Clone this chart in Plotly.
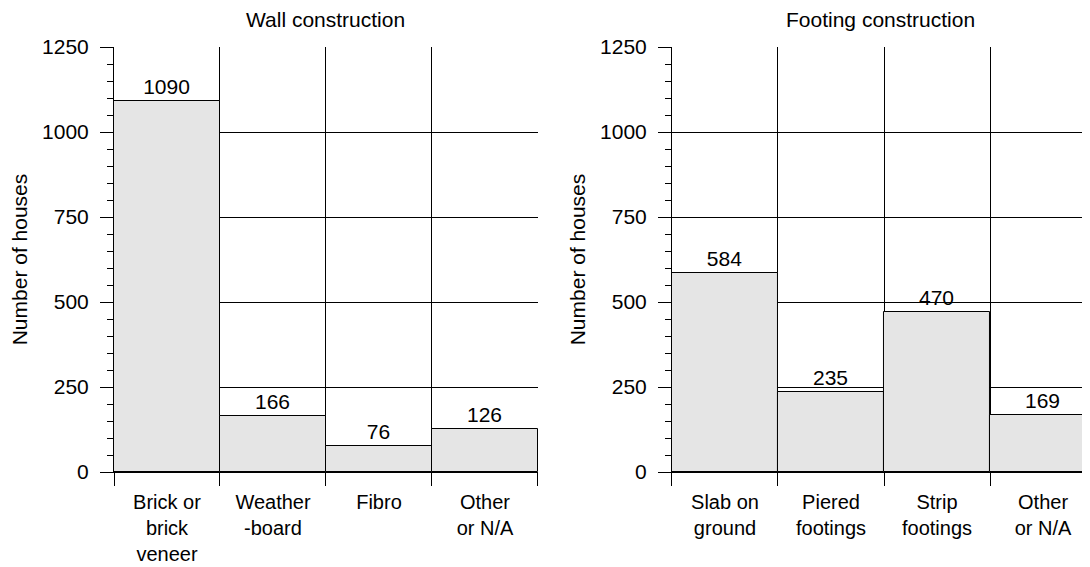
import plotly.graph_objects as go
from plotly.subplots import make_subplots

# ---- data
wall_labels = ["Brick or<br>brick<br>veneer", "Weather<br>-board", "Fibro", "Other<br>or N/A"]
wall_counts = [1090, 166, 76, 126]

footing_labels = ["Slab on<br>ground", "Piered<br>footings", "Strip<br>footings", "Other<br>or N/A"]
footing_counts = [584, 235, 470, 169]

titles = ["Wall construction", "Footing construction"]

FONT = "Liberation Sans, Arial, sans-serif"
# page body has an 8px margin, so the figure is a bit smaller than the window
W, H = 1082, 559

# ---- create figure
fig = make_subplots(rows=1, cols=2, horizontal_spacing=0.1373)

for col, (labels, counts) in enumerate([(wall_labels, wall_counts), (footing_labels, footing_counts)], start=1):
	fig.add_trace(go.Bar(
		x=labels,
		y=counts,
		text=[str(v) for v in counts],
		textposition="outside",
		textfont=dict(size=21, color="black", family=FONT),
		marker=dict(color="#e5e5e5", line=dict(color="black", width=1)),
		cliponaxis=False,
		showlegend=False,
	), row=1, col=col)

# ---- axes
fig.update_xaxes(
	type="category",
	tickson="boundaries",
	ticks="outside",
	ticklen=13,
	tickcolor="black",
	showgrid=True,
	gridcolor="black",
	gridwidth=1,
	showline=True,
	linecolor="black",
	tickfont=dict(size=20, color="black", family=FONT),
	ticklabelstandoff=12,
	automargin=False,
)
fig.update_xaxes(range=[-0.5, 3.5], domain=[0, 0.4344], row=1, col=1)
fig.update_xaxes(range=[-0.5, 3.443], domain=[0.5717, 1], row=1, col=2)

fig.update_yaxes(
	range=[0, 1250],
	tickvals=[0, 250, 500, 750, 1000, 1250],
	ticks="outside",
	ticklen=13,
	tickcolor="black",
	showgrid=True,
	gridcolor="black",
	gridwidth=1,
	zeroline=False,
	showline=True,
	linecolor="black",
	tickfont=dict(size=21, color="black", family=FONT),
	ticklabelstandoff=7,
	minor=dict(dtick=50, ticks="outside", ticklen=6, tickcolor="black", showgrid=False),
	title=dict(text="Number of houses", font=dict(size=21, color="black", family=FONT), standoff=8),
	automargin=False,
)

# ---- subplot titles
for i, t in enumerate(titles):
	xref = "x domain" if i == 0 else "x2 domain"
	fig.add_annotation(
		text=t, xref=xref, yref="paper", x=0.5, y=1, yshift=14,
		xanchor="center", yanchor="bottom", showarrow=False,
		font=dict(size=21, color="black", family=FONT),
	)

fig.update_layout(
	width=W,
	height=H,
	bargap=0,
	plot_bgcolor="white",
	paper_bgcolor="white",
	font=dict(family=FONT, size=21, color="black"),
	margin=dict(l=106, r=0, t=39, b=95, pad=0),
)

fig.write_html("out.html")
